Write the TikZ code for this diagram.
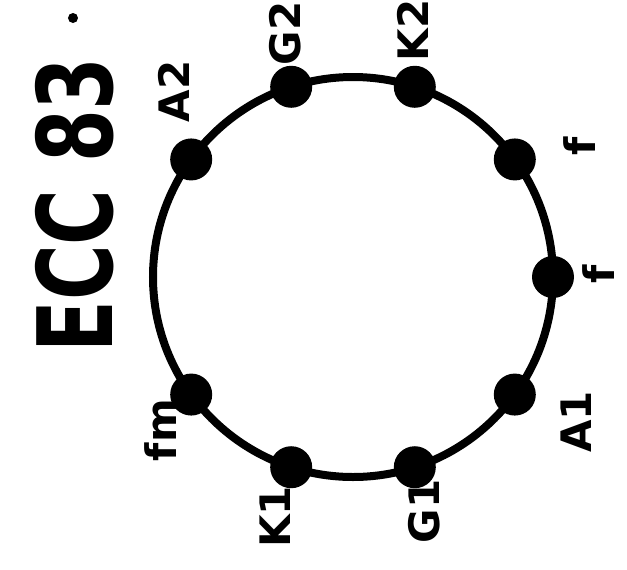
\documentclass[tikz,border=0pt]{standalone}
\usepackage{fontspec}
\setmainfont{DejaVu Sans}
\usetikzlibrary{positioning}

\begin{document}
\begin{tikzpicture}[
  x=0.5pt, y=0.5pt,
  every node/.style={font=\bfseries},
  socket/.style={circle, draw=black, line width=4pt, minimum size=200pt,
                 inner sep=0pt},
  pin/.style={circle, fill=black, minimum size=21pt, inner sep=0pt},
  pinlabel/.style={rotate=90, inner sep=0pt,
                   font=\fontsize{21}{25}\selectfont\bfseries},
  title/.style={rotate=90, inner sep=0pt,
                font=\fontsize{52}{60}\selectfont\bfseries},
]
\useasboundingbox (-353,-292) rectangle (274,277);

%% ── Socket ring ──────────────────────────────────────────────────────────
\node[socket] (ring) at (0,0) {};

%% ── Pins (noval, 36 degree pitch, gap on the left) ───────────────────────
\foreach \i/\ang/\lab/\la/\lr in {
  1/144/A2/134/258,
  2/108/G2/105.6/253,
  3/72/K2/76.3/254,
  4/36/f/30/262,
  5/0/f/0.7/246,
  6/-36/A1/-33/266,
  7/-72/G1/-73/245,
  8/-108/K1/-108/252,
  9/-144/fm/-141.5/246} {
  \node[pin] (pin\i) at (\ang:200) {};
  \node[pinlabel] (lab\i) at (\la:\lr) {\lab};
}

%% ── Tube type ────────────────────────────────────────────────────────────
\node[title] (type) at (-278,72) {\scalebox{0.73}[1]{ECC 83}};
\node[circle, fill=black, minimum size=5pt, inner sep=0pt] (dot) at (-280,259) {};

\end{tikzpicture}
\end{document}
